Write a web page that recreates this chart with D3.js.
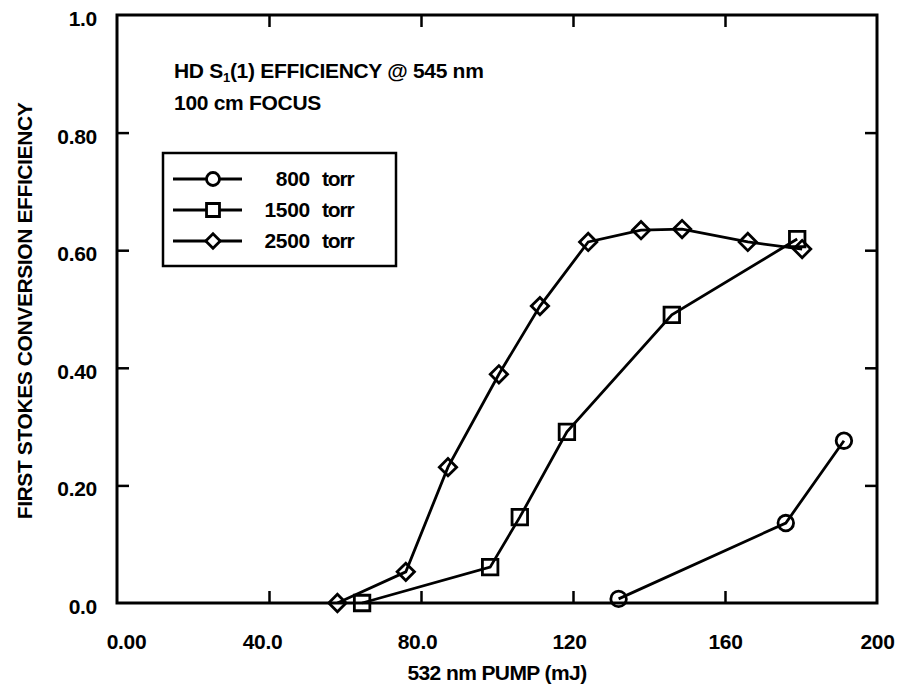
<!DOCTYPE html>
<html>
<head>
<meta charset="utf-8">
<script src="https://cdn.jsdelivr.net/npm/d3@7"></script>
<style>
  body { margin: 0; background: #fff; }
  text { font-family: "Liberation Sans", Arial, sans-serif; font-weight: bold; fill: #000; }
</style>
</head>
<body>
<div id="chart"></div>
<script>
// data
var xTicks = [0, 40, 80, 120, 160, 200];
var xTickLabels = ["0.00", "40.0", "80.0", "120", "160", "200"];
var yTicks = [0, 0.2, 0.4, 0.6, 0.8, 1.0];
var yTickLabels = ["0.0", "0.20", "0.40", "0.60", "0.80", "1.0"];

var pump800 = [132, 176, 191.3];
var eff800 = [0.007, 0.136, 0.276];

var pump1500 = [64.5, 98.2, 106, 118.4, 146, 179];
var eff1500 = [0, 0.061, 0.146, 0.291, 0.49, 0.619];

var pump2500 = [58, 76, 87.1, 100.5, 111.3, 124, 137.9, 148.7, 166, 180.3];
var eff2500 = [0, 0.053, 0.231, 0.389, 0.505, 0.614, 0.634, 0.636, 0.614, 0.602];

var seriesNames = ["800", "1500", "2500"];
var seriesShapes = ["circle", "square", "diamond"];

var margin = {top: 15, right: 25, bottom: 89, left: 117},
    width = 902 - margin.left - margin.right,
    height = 692 - margin.top - margin.bottom;

// the original x labels are not quite centred on their ticks
var xLabelNudge = [9, -7, -4, -4, 0, 0];

var svg = d3.select("#chart")
  .append("svg")
    .attr("width", 902)
    .attr("height", 692)
  .append("g")
    .attr("transform", "translate(" + margin.left + "," + margin.top + ")");

var x = d3.scaleLinear().domain([0, 200]).range([0, width]);
var y = d3.scaleLinear().domain([0, 1]).range([height, 0]);

var series = [
  {name: seriesNames[0], shape: seriesShapes[0], pts: pump800.map((p, i) => [p, eff800[i]])},
  {name: seriesNames[1], shape: seriesShapes[1], pts: pump1500.map((p, i) => [p, eff1500[i]])},
  {name: seriesNames[2], shape: seriesShapes[2], pts: pump2500.map((p, i) => [p, eff2500[i]])}
];

// inward ticks on all four sides
var tickLen = 12;
var innerX = xTicks.slice(1, -1), innerY = yTicks.slice(1, -1);
svg.append("g").attr("transform", "translate(0," + height + ")")
  .call(d3.axisBottom(x).tickValues(xTicks).tickSize(-tickLen).tickPadding(31)
    .tickFormat((d, i) => xTickLabels[i]))
  .call(g => g.select(".domain").remove())
  .call(g => g.selectAll(".tick line").attr("stroke-width", 2.5).filter(d => !innerX.includes(d)).remove())
  .call(g => g.selectAll(".tick text").attr("font-size", 21).attr("font-family", null)
    .attr("letter-spacing", -0.3).attr("dx", (d, i) => xLabelNudge[i]));

svg.append("g")
  .call(d3.axisLeft(y).tickValues(yTicks).tickSize(-tickLen).tickPadding(20)
    .tickFormat((d, i) => yTickLabels[i]))
  .call(g => g.select(".domain").remove())
  .call(g => g.selectAll(".tick line").attr("stroke-width", 2.5).filter(d => !innerY.includes(d)).remove())
  .call(g => g.selectAll(".tick text").attr("font-size", 21).attr("font-family", null)
    .attr("letter-spacing", -0.3).attr("dy", "0.5em"));

svg.append("g")
  .call(d3.axisTop(x).tickValues(innerX).tickSize(-tickLen).tickFormat(""))
  .call(g => g.select(".domain").remove())
  .call(g => g.selectAll(".tick line").attr("stroke-width", 2.5));

svg.append("g").attr("transform", "translate(" + width + ",0)")
  .call(d3.axisRight(y).tickValues(innerY).tickSize(-tickLen).tickFormat(""))
  .call(g => g.select(".domain").remove())
  .call(g => g.selectAll(".tick line").attr("stroke-width", 2.5));

// frame
svg.append("rect")
  .attr("width", width).attr("height", height)
  .attr("fill", "none").attr("stroke", "#000").attr("stroke-width", 3);

// markers: diamond is a square turned 45 degrees
var symType = {circle: d3.symbolCircle, square: d3.symbolSquare, diamond: d3.symbolSquare};
var symSize = {circle: 190, square: 240, diamond: 150};
var symRot = {circle: 0, square: 0, diamond: 45};

var line = d3.line().x(d => x(d[0])).y(d => y(d[1]));

series.forEach(function(s) {
  svg.append("path")
    .datum(s.pts)
    .attr("fill", "none")
    .attr("stroke", "#000")
    .attr("stroke-width", 2.8)
    .attr("d", line);

  svg.append("g")
    .selectAll("path")
    .data(s.pts)
    .join("path")
      .attr("transform", d => "translate(" + x(d[0]) + "," + y(d[1]) + ") rotate(" + symRot[s.shape] + ")")
      .attr("d", d3.symbol().type(symType[s.shape]).size(symSize[s.shape]))
      .attr("fill", "none")
      .attr("stroke", "#000")
      .attr("stroke-width", 2.8);
});

// annotation
var note = svg.append("text")
  .attr("x", 174 - margin.left)
  .attr("y", 78 - margin.top)
  .attr("font-size", 21)
  .attr("letter-spacing", -0.3);
note.append("tspan").text("HD S");
note.append("tspan").attr("font-size", 13).attr("dy", 4).text("1");
note.append("tspan").attr("dy", -4).text("(1) EFFICIENCY @ 545 nm");

svg.append("text")
  .attr("x", 174 - margin.left)
  .attr("y", 110 - margin.top)
  .attr("font-size", 21)
  .attr("letter-spacing", -0.3)
  .text("100 cm FOCUS");

// legend
var legend = svg.append("g").attr("transform", "translate(" + (163 - margin.left) + "," + (153 - margin.top) + ")");
legend.append("rect")
  .attr("width", 233).attr("height", 113)
  .attr("fill", "#fff").attr("stroke", "#000").attr("stroke-width", 2.5);

series.forEach(function(s, i) {
  var ly = 26 + i * 31;
  legend.append("line")
    .attr("x1", 10).attr("x2", 79).attr("y1", ly).attr("y2", ly)
    .attr("stroke", "#000").attr("stroke-width", 2.8);
  legend.append("path")
    .attr("transform", "translate(50," + ly + ") rotate(" + symRot[s.shape] + ")")
    .attr("d", d3.symbol().type(symType[s.shape]).size(symSize[s.shape] * 0.7))
    .attr("fill", "#fff").attr("stroke", "#000").attr("stroke-width", 2.8);
  legend.append("text")
    .attr("x", 147).attr("y", ly + 7)
    .attr("text-anchor", "end")
    .attr("font-size", 21).attr("letter-spacing", -0.3)
    .text(s.name);
  legend.append("text")
    .attr("x", 159).attr("y", ly + 7)
    .attr("font-size", 21).attr("letter-spacing", -1.2)
    .text("torr");
});

// axis titles
svg.append("text")
  .attr("x", 497 - margin.left)
  .attr("y", 680 - margin.top)
  .attr("text-anchor", "middle")
  .attr("font-size", 21)
  .attr("letter-spacing", -0.6)
  .text("532 nm PUMP (mJ)");

svg.append("text")
  .attr("transform", "translate(" + (32 - margin.left) + "," + (311 - margin.top) + ") rotate(-90)")
  .attr("text-anchor", "middle")
  .attr("font-size", 21)
  .attr("letter-spacing", -0.4)
  .text("FIRST STOKES CONVERSION EFFICIENCY");
</script>
</body>
</html>
